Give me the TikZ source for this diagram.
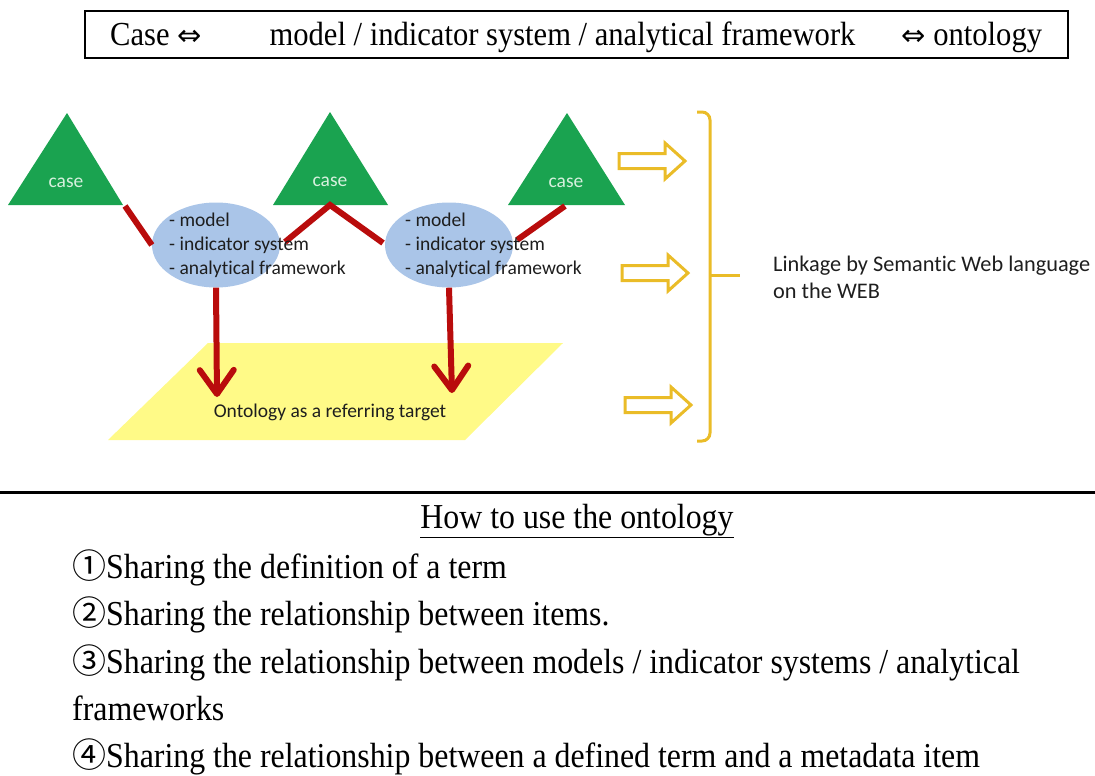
\documentclass[tikz,border=0pt]{standalone}
\usepackage{fontspec}
\setmainfont[FakeStretch=0.91]{Liberation Serif}
\newfontfamily\calfont[Ligatures=NoCommon]{Carlito}
\newfontfamily\symfont{DejaVu Sans}
\newfontfamily\circfont{Noto Sans CJK JP}
\usetikzlibrary{shapes.geometric,arrows.meta}
\definecolor{mygreen}{RGB}{26,163,80}
\definecolor{mymint}{RGB}{215,240,222}
\definecolor{myblue}{RGB}{170,197,232}
\definecolor{myred}{RGB}{185,12,12}
\definecolor{myyellow}{RGB}{255,250,135}
\definecolor{mygold}{RGB}{234,188,40}
\definecolor{darktext}{RGB}{30,30,30}
\newcommand\circnum[1]{{\circfont\fontsize{34}{36}\selectfont #1}}
\newcommand\dblarrow{{\symfont\fontsize{29}{30}\selectfont ⇔}}
\begin{document}
\begin{tikzpicture}[x=1pt,y=-1pt,
  redline/.style={line width=6pt, draw=myred},
  downarrow/.style={redline, -{Straight Barb[round,length=24pt,width=34pt]}},
  casetext/.style={font=\calfont\fontsize{19.5}{23}\selectfont, text=mymint, inner sep=0},
  sanstext/.style={font=\calfont\fontsize{19.5}{24}\selectfont, text=darktext, inner sep=0, align=left},
  blueell/.style={ellipse, fill=myblue, minimum width=128pt, minimum height=85pt, inner sep=0},
  hollow/.style={draw=mygold, line width=3pt, fill=white, line join=miter},
  blockarr/.pic={\draw[hollow] (0,-7.5) -- (46,-7.5) -- (46,-18) -- (66,0) -- (46,18) -- (46,7.5) -- (0,7.5) -- cycle;},
  serif/.style={font=\fontsize{35}{40}\selectfont, inner sep=0},
  headserif/.style={font=\fontsize{33.6}{40}\selectfont, inner sep=0},
]
\useasboundingbox (0,0) rectangle (1095,776);

% top box
\draw[line width=2.5pt] (85,11) rectangle (1068,58);
\node[headserif, anchor=base west] (head) at (110,46) {Case \dblarrow\hspace{68pt}model / indicator system / analytical framework\hspace{46pt}\dblarrow{} ontology};

% parallelogram
\fill[myyellow] (208,343) -- (563,343) -- (465,440) -- (108,440) -- cycle;
\node[sanstext] (onto) at (330,412) {Ontology as a referring target};

% triangles
\fill[mygreen] (8,205) -- (67,113) -- (123,205) -- cycle;
\fill[mygreen] (273,205) -- (330,112) -- (388,205) -- cycle;
\fill[mygreen] (508,205) -- (567,113) -- (625,205) -- cycle;
\node[casetext] (c1) at (66,183) {case};
\node[casetext] (c2) at (330,182) {case};
\node[casetext] (c3) at (566,183) {case};
\coordinate (t1r) at (125,206);
\coordinate (t2b) at (330,205);
\coordinate (t3b) at (565,206);

% ellipses
\node[blueell] (e1) at (216,245) {};
\node[blueell] (e2) at (449,245) {};
\coordinate (e1r) at (285,242);
\coordinate (e2l) at (383,243);
\coordinate (e2r) at (517,240);

% red connectors
\draw[redline] (t1r) -- (e1.west);
\draw[redline, line join=miter] (e1r) -- (t2b) -- (e2l);
\draw[redline] (t3b) -- (e2r);
\coordinate (a1) at (217,397);
\coordinate (a2) at (452,393);
\draw[downarrow] (e1.south) -- (a1);
\draw[downarrow] (e2.south) -- (a2);

% ellipse texts
\node[sanstext, anchor=west] (m1) at (169,245) {- model\\- indicator system\\- analytical framework};
\node[sanstext, anchor=west] (m2) at (405,245) {- model\\- indicator system\\- analytical framework};

% hollow arrows
\pic at (619,161) {blockarr};
\pic at (622,273) {blockarr};
\pic at (625,405) {blockarr};

% bracket
\draw[mygold, line width=3pt, rounded corners=8pt] (697,112) -- (710,112) -- (710,441) -- (697,441);
\coordinate (bm) at (710,275);
\coordinate (bt) at (740,275);
\draw[mygold, line width=3pt] (bm) -- (bt);
\node[sanstext, anchor=west, font=\calfont\fontsize{22.3}{27}\selectfont] (link) at (773,277) {Linkage by Semantic Web language\\on the WEB};

% bottom box
\draw[line width=3pt] (0,492) -- (1095,492);
\node[serif, anchor=base] (howto) at (577,528) {\underline{How to use the ontology}};
\node[serif, anchor=base west] (i1) at (72,578) {\circnum{①}Sharing the definition of a term};
\node[serif, anchor=base west] (i2) at (72,625) {\circnum{②}Sharing the relationship between items.};
\node[serif, anchor=base west] (i3) at (72,673) {\circnum{③}Sharing the relationship between models / indicator systems / analytical};
\node[serif, anchor=base west] (i3b) at (72,720) {frameworks};
\node[serif, anchor=base west] (i4) at (72,767) {\circnum{④}Sharing the relationship between a defined term and a metadata item};
\end{tikzpicture}
\end{document}
